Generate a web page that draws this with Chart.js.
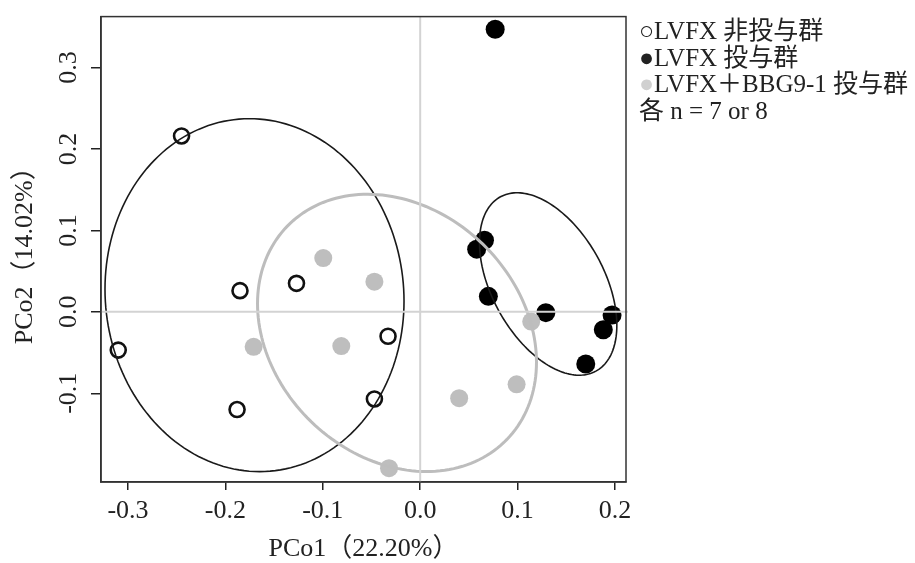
<!DOCTYPE html>
<html>
<head>
<meta charset="utf-8">
<script src="https://cdn.jsdelivr.net/npm/chart.js@4"></script>
<style>
body{margin:0;background:#fff;}
#wrap{position:relative;width:915px;height:563px;}
#key{
    position:absolute;left:639px;top:18px;
    font:25px "Liberation Serif","Noto Sans CJK JP",serif;
    line-height:26.7px;color:#222;white-space:nowrap;
}
</style>
</head>
<body>
<div id="wrap">
<canvas id="c" width="915" height="563"></canvas>
<div id="key">
<div>○LVFX 非投与群</div>
<div>●LVFX 投与群</div>
<div><span style="color:#d0d0d0">●</span>LVFX＋BBG9-1 投与群</div>
<div>各 n = 7 or 8</div>
</div>
</div>
<script>

// tick values
const xTicks=[-0.3,-0.2,-0.1,0.0,0.1,0.2];
const yTicks=[-0.1,0.0,0.1,0.2,0.3];

// LVFX 非投与群 (open circles)
const nonX=[-0.245,-0.185,-0.127,-0.310,-0.033,-0.188,-0.047];
const nonY=[0.216,0.026,0.035,-0.047,-0.030,-0.120,-0.107];

// LVFX 投与群 (filled black)
const lvfxX=[0.077,0.066,0.058,0.070,0.129,0.197,0.188,0.170];
const lvfxY=[0.347,0.088,0.077,0.019,-0.001,-0.004,-0.022,-0.064];

// LVFX+BBG9-1 投与群 (gray)
const bbgX=[-0.0995,-0.047,-0.171,-0.081,-0.032,0.114,0.099,0.040];
const bbgY=[0.066,0.037,-0.043,-0.042,-0.192,-0.012,-0.089,-0.106];

// group ellipses: centre and two conjugate semi-axes (data units)
const ellCenter=[[-0.1701,0.0205],[0.1314,0.0342],[-0.0238,-0.0259]];
const ellU=[[0.1535,-0.0073],[0.0705,-0.0507],[0.1432,-0.0360]];
const ellV=[[0,0.2166],[0,0.0999],[0,0.1664]];
const ellColor=["#1a1a1a","#1a1a1a","#bdbdbd"];
const ellWidth=[1.6,1.6,3];

const serif='"Liberation Serif","Noto Sans CJK JP",serif';

function pts(xs,ys){
    return xs.map((v,i)=>({x:v,y:ys[i]}));
}

const ellipsePlugin={
    id:"ellipses",
    afterDatasetDraw(chart,args){
        const i=args.index;
        const {ctx,scales:{x,y}}=chart;
        const [cx,cy]=ellCenter[i];
        const [ux,uy]=ellU[i];
        const [vx,vy]=ellV[i];
        ctx.save();
        ctx.beginPath();
        for(let k=0;k<=180;k++){
            const t=k/180*Math.PI*2;
            const px=x.getPixelForValue(cx+ux*Math.cos(t)+vx*Math.sin(t));
            const py=y.getPixelForValue(cy+uy*Math.cos(t)+vy*Math.sin(t));
            if(k==0) ctx.moveTo(px,py); else ctx.lineTo(px,py);
        }
        ctx.closePath();
        ctx.strokeStyle=ellColor[i];
        ctx.lineWidth=ellWidth[i];
        ctx.stroke();
        ctx.restore();
    },
    afterDatasetsDraw(chart){
        const {ctx,chartArea:a,scales:{x,y}}=chart;
        const x0=x.getPixelForValue(0);
        const y0=y.getPixelForValue(0);
        ctx.save();
        ctx.strokeStyle="#d3d3d3";
        ctx.lineWidth=2;
        ctx.beginPath();
        ctx.moveTo(x0,a.top);ctx.lineTo(x0,a.bottom);
        ctx.moveTo(a.left,y0);ctx.lineTo(a.right+2,y0);
        ctx.stroke();
        ctx.strokeStyle="#333";
        ctx.lineWidth=1.5;
        ctx.strokeRect(a.left,a.top,a.right-a.left,a.bottom-a.top);
        ctx.restore();
    }
};

new Chart(document.getElementById("c"),{
    type:"scatter",
    data:{
        datasets:[
            {
                label:"LVFX 非投与群",
                data:pts(nonX,nonY),
                pointRadius:7.5,
                pointBorderWidth:2.6,
                pointBorderColor:"#111",
                pointBackgroundColor:"rgba(0,0,0,0)",
                order:3
            },
            {
                label:"LVFX 投与群",
                data:pts(lvfxX,lvfxY),
                pointRadius:9.5,
                pointBorderWidth:0,
                pointBackgroundColor:"#000",
                order:2
            },
            {
                label:"LVFX＋BBG9-1 投与群",
                data:pts(bbgX,bbgY),
                pointRadius:9,
                pointBorderWidth:0,
                pointBackgroundColor:"#bebebe",
                order:1
            }
        ]
    },
    options:{
        responsive:false,
        animation:false,
        events:[],
        layout:{padding:{left:0,right:289,top:14,bottom:0}},
        plugins:{legend:{display:false},tooltip:{enabled:false}},
        scales:{
            x:{
                type:"linear",
                min:-0.3277,
                max:0.2113,
                afterBuildTicks:s=>{s.ticks=xTicks.map(v=>({value:v}));},
                afterFit:s=>{s.height=81;},
                grid:{drawOnChartArea:false,drawTicks:true,tickLength:8,color:"#222",lineWidth:1.5},
                border:{display:true,color:"#333",width:1.5},
                ticks:{
                    padding:6,
                    color:"#222",
                    font:{family:serif,size:26},
                    callback:v=>v.toFixed(1)
                },
                title:{
                    display:true,
                    text:"PCo1（22.20%）",
                    color:"#222",
                    font:{family:serif,size:26},
                    padding:{top:0,bottom:-2}
                }
            },
            y:{
                type:"linear",
                min:-0.209,
                max:0.3626,
                afterBuildTicks:s=>{s.ticks=yTicks.map(v=>({value:v}));},
                afterFit:s=>{s.width=101;},
                grid:{drawOnChartArea:false,drawTicks:true,tickLength:10,color:"#222",lineWidth:1.5},
                border:{display:true,color:"#333",width:1.5},
                ticks:{
                    padding:1,
                    minRotation:90,
                    maxRotation:90,
                    crossAlign:"center",
                    color:"#222",
                    font:{family:serif,size:26},
                    callback:v=>v.toFixed(1)
                },
                title:{
                    display:true,
                    text:"PCo2（14.02%）",
                    color:"#222",
                    font:{family:serif,size:26},
                    padding:{top:10,bottom:0}
                }
            }
        }
    },
    plugins:[ellipsePlugin]
});
</script>
</body>
</html>
